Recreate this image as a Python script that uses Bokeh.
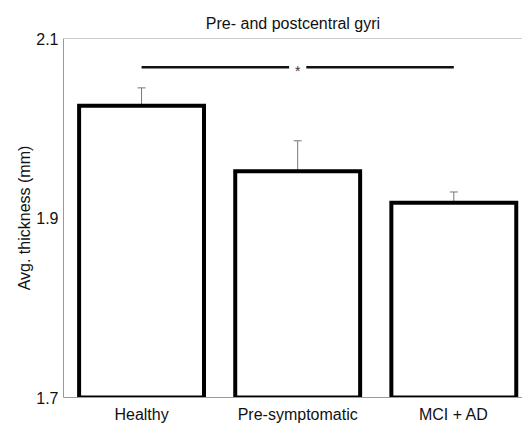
from bokeh.plotting import figure
from bokeh.models import ColumnDataSource, Whisker, TeeHead, FixedTicker, Span, Label
from bokeh.embed import file_html
from bokeh.resources import INLINE

# ---- data ----
categories = ["Healthy", "Pre-symptomatic", "MCI + AD"]
means = [2.025, 1.952, 1.917]
errors = [0.020, 0.034, 0.012]
sig_groups = (0, 2)          # indices of compared groups
sig_level = 2.068
sig_text = "*"
y_ticks = [1.7, 1.9, 2.1]

FONT = "Liberation Sans"
AXIS_GRAY = "#9a9a9a"

xs = [i + 1 for i in range(len(categories))]
src = ColumnDataSource(dict(
    x=xs, top=means,
    upper=[m + e for m, e in zip(means, errors)],
))

p = figure(width=522, height=432, x_range=(0.5, 3.44), y_range=(y_ticks[0], y_ticks[-1]),
           output_backend="svg", toolbar_location=None,
           min_border_left=63, min_border_right=0, min_border_top=38, min_border_bottom=35,
           title="Pre- and postcentral gyri")
p.outline_line_color = None
p.grid.grid_line_color = None
p.background_fill_color = "white"
p.border_fill_color = "white"

p.title.align = "center"
p.title.text_font = FONT
p.title.text_font_size = "16px"
p.title.text_font_style = "normal"
p.title.text_color = "#111111"
p.title.standoff = 13

# bars
p.vbar(x="x", top="top", bottom=y_ticks[0], width=0.8, source=src,
       fill_color="white", line_color="black", line_width=4, line_join="miter")

# error bars
w = Whisker(base="x", upper="upper", lower="top", source=src,
            line_color="#777777", line_width=1,
            upper_head=TeeHead(size=8, line_color="#777777", line_width=1),
            lower_head=None)
p.add_layout(w)

# significance bar
x_a, x_b = xs[sig_groups[0]], xs[sig_groups[1]]
mid = (x_a + x_b) / 2
gap = 0.055
p.segment(x0=[x_a, mid + gap], x1=[mid - gap, x_b], y0=[sig_level] * 2, y1=[sig_level] * 2,
          line_color="#111111", line_width=2.5)
p.add_layout(Label(x=mid, y=sig_level, text=sig_text, text_align="center",
                   text_baseline="middle", y_offset=-4, text_font=FONT,
                   text_font_size="14px", text_color="#333333"))

# top frame line
p.add_layout(Span(location=y_ticks[-1], dimension="width", line_color=AXIS_GRAY, line_width=1))

# axes
p.xaxis.ticker = FixedTicker(ticks=xs)
p.xaxis.major_label_overrides = {x: c for x, c in zip(xs, categories)}
p.yaxis.ticker = FixedTicker(ticks=y_ticks)
p.yaxis.axis_label = "Avg. thickness (mm)"
for ax in (p.xaxis[0], p.yaxis[0]):
    ax.axis_line_color = AXIS_GRAY
    ax.axis_line_width = 1
    ax.major_tick_line_color = None
    ax.minor_tick_line_color = None
    ax.major_tick_out = 0
    ax.major_tick_in = 0
    ax.minor_tick_out = 0
    ax.major_label_text_font = FONT
    ax.major_label_text_font_size = "16px"
    ax.major_label_text_color = "#111111"
    ax.axis_label_text_font = FONT
    ax.axis_label_text_font_size = "16px"
    ax.axis_label_text_font_style = "normal"
    ax.axis_label_text_color = "#111111"
p.xaxis.major_label_standoff = 8
p.yaxis.major_label_standoff = 5
p.yaxis.axis_label_standoff = 0

open("out.html", "w").write(file_html(p, INLINE))
